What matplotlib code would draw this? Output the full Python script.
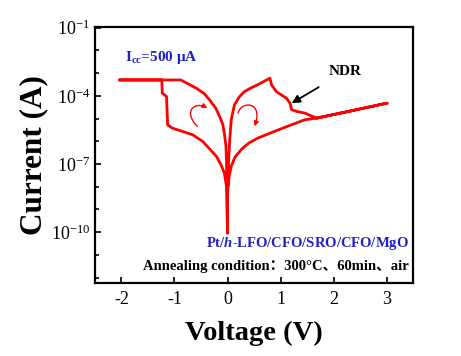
import numpy as np
import matplotlib
matplotlib.use("Agg")
import matplotlib.pyplot as plt
from matplotlib.patches import FancyArrowPatch
from matplotlib.path import Path

plt.rcParams['font.family'] = ['Liberation Serif', 'Noto Sans CJK SC']
plt.rcParams['mathtext.fontset'] = 'custom'
plt.rcParams['mathtext.rm'] = 'Liberation Serif'
plt.rcParams['mathtext.bf'] = 'Liberation Serif:bold'
plt.rcParams['mathtext.it'] = 'Liberation Serif:italic:bold'

# I-V sweep: 0 -> +3 V -> 0 -> -2 V -> 0 (log10 of current in A)
v_sweep = [0.0, 0.01, 0.02, 0.04, 0.07, 0.13, 0.22, 0.32, 0.45, 0.57, 0.80, 0.83, 0.92, 1.11, 1.18,
           1.21, 1.30, 1.46, 1.68, 2.31, 3.01,
           2.31, 1.68, 1.46, 1.21, 0.89, 0.57, 0.40, 0.26, 0.14, 0.07, 0.03, 0.01, 0.0, 0.0,
           -0.02, -0.06, -0.12, -0.21, -0.47, -0.66, -1.04, -1.13, -1.15, -1.23, -1.24,
           -2.04, -0.88, -0.59, -0.44, -0.34, -0.22, -0.15, -0.09, -0.06, -0.03, -0.02, -0.01, 0.0]
logi_sweep = [-7.6, -7.97, -6.9, -6.0, -5.05, -4.40, -4.05, -3.81, -3.64, -3.51, -3.22, -3.51, -3.81, -4.10, -4.32,
              -4.61, -4.68, -4.76, -4.98, -4.67, -4.32,
              -4.67, -4.98, -5.05, -5.27, -5.56, -5.86, -6.08, -6.36, -6.70, -7.10, -7.55, -7.97, -8.5, -10.05,
              -7.97, -7.39, -7.05, -6.66, -6.00, -5.71, -5.42, -5.27, -4.03, -3.88, -3.30,
              -3.30, -3.30, -3.66, -3.90, -4.17, -4.55, -4.90, -5.25, -5.64, -6.20, -6.80, -7.97, -7.6]

current = 10.0 ** np.array(logi_sweep)

yticks = [1e-1, 1e-4, 1e-7, 1e-10]
ytick_labels = ['$10^{-1}$', '$10^{-4}$', '$10^{-7}$', '$10^{-10}$']
xticks = [-2, -1, 0, 1, 2, 3]

fig = plt.figure(figsize=(4.61, 3.56), dpi=100)
ax = fig.add_axes([0.206, 0.205, 0.69, 0.719])

ax.plot(v_sweep, current, color='#ff0000', lw=2.0, solid_joinstyle='round')

ax.set_yscale('log')
ax.set_xlim(-2.5, 3.5)
ax.set_ylim(10 ** -12.24, 10 ** -0.97)
ax.set_xticks(xticks)
ax.set_xticklabels([str(t) for t in xticks])
ax.set_yticks(yticks)
ax.set_yticklabels(ytick_labels)
ax.set_yticks([10.0 ** k for k in range(-12, 0)], minor=True)
ax.yaxis.set_minor_formatter(matplotlib.ticker.NullFormatter())
ax.tick_params(axis='both', which='both', direction='in', labelsize=13,
               width=1.2, top=False, right=False)
ax.tick_params(which='major', length=4)
ax.tick_params(axis='x', pad=6)
ax.tick_params(which='minor', length=3)
ax.tick_params(axis='x', which='minor', bottom=False)
for sp in ax.spines.values():
    sp.set_linewidth(1.6)

ax.set_xlabel('Voltage (V)', fontsize=20.5, fontweight='bold', labelpad=9)
ax.set_ylabel('Current (A)', fontsize=22.5, fontweight='bold', labelpad=2)


def curved_arrow(pts):
    # cubic Bezier through (V, log10 I) control points
    verts = [(v, 10.0 ** l) for v, l in pts]
    path = Path(verts, [Path.MOVETO, Path.CURVE4, Path.CURVE4, Path.CURVE4])
    return FancyArrowPatch(path=path, arrowstyle='-|>', mutation_scale=7,
                           color='#ff0000', lw=1.0, transform=ax.transData)


ax.add_patch(curved_arrow([(-0.57, -5.34), (-0.84, -4.70), (-0.63, -4.22), (-0.38, -4.54)]))
ax.add_patch(curved_arrow([(0.20, -4.76), (0.25, -4.22), (0.68, -4.22), (0.51, -5.34)]))

ax.annotate('NDR', xy=(1.21, 10 ** -4.32), xytext=(2.22, 10 ** -2.93),
            fontsize=11, fontweight='bold', ha='center', va='center',
            arrowprops=dict(arrowstyle='-|>', color='black', lw=1.3,
                            mutation_scale=12, shrinkA=9, shrinkB=0))

ax.text(-1.94, 10 ** -2.32, r'$\mathbf{I_{cc}}$=500 μA', color='#2020c8',
        fontsize=11, fontweight='bold', ha='left', va='center')
ax.text(3.42, 10 ** -10.52, r'Pt/$\mathit{h}$-LFO/CFO/SRO/CFO/MgO', color='#2020c8',
        fontsize=10.5, fontweight='bold', ha='right', va='center')
ax.text(3.42, 10 ** -11.53, 'Annealing condition：300°C、60min、air', color='black',
        fontsize=10.5, fontweight='bold', ha='right', va='center')

fig.savefig('out.png', dpi=100)
